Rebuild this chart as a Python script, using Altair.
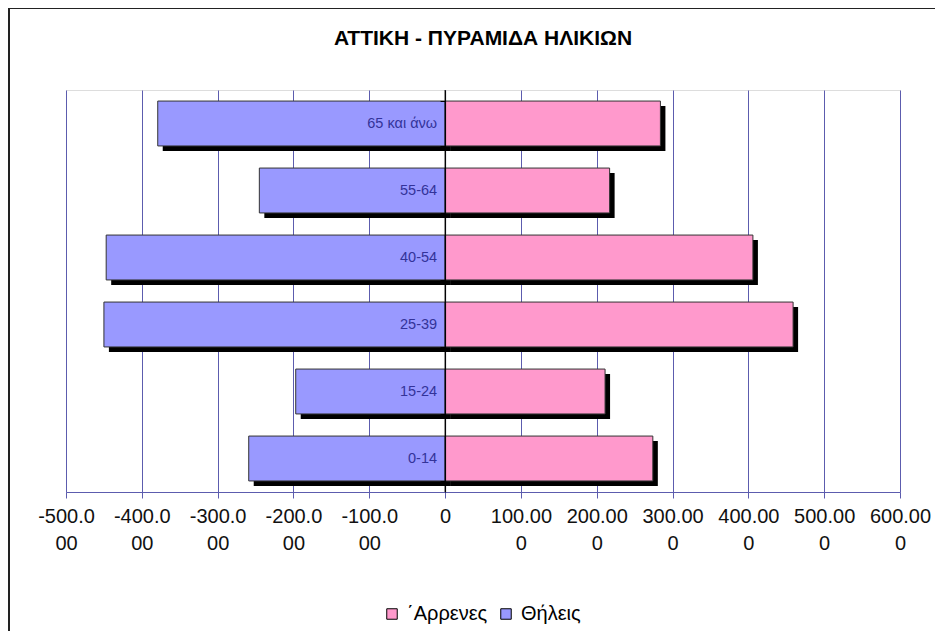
import altair as alt
import pandas as pd

# ---- data ----
age_groups = ["0-14", "15-24", "25-39", "40-54", "55-64", "65 και άνω"]
males = [274, 211, 459, 406, 217, 284]          # Άρρενες (right side)
females = [-259, -197, -450, -447, -245, -379]  # Θήλεις (left side, negative)
series_names = ["΄Αρρενες", "Θήλεις"]
series_colors = ["#FF99CC", "#9999FF"]
tick_values = [-500, -400, -300, -200, -100, 0, 100, 200, 300, 400, 500, 600]
tick_label_lines = [["-500.0", "00"], ["-400.0", "00"], ["-300.0", "00"], ["-200.0", "00"],
                    ["-100.0", "00"], ["0"], ["100.00", "0"], ["200.00", "0"], ["300.00", "0"],
                    ["400.00", "0"], ["500.00", "0"], ["600.00", "0"]]
title_text = "ΑΤΤΙΚΗ - ΠΥΡΑΜΙΔΑ ΗΛΙΚΙΩΝ"

rows = []
for g, m, f in zip(age_groups, males, females):
    rows.append({"age": g, "sex": series_names[0], "value": m})
    rows.append({"age": g, "sex": series_names[1], "value": f})
df = pd.DataFrame(rows)

W, H = 834, 402
XMIN, XMAX = -500, 600
FONT = "Liberation Sans"
GRID = "#5c5cae"

label_expr = "".join(
    f"datum.value == {v} ? {tick_label_lines[i]!r} : " for i, v in enumerate(tick_values)
) + "''"

y_order = list(reversed(age_groups))
yscale = alt.Scale(domain=y_order, paddingInner=0.33, paddingOuter=0.165)
xscale = alt.Scale(domain=[XMIN, XMAX], nice=False, zero=False)

zero_offset = -W * (0 - XMIN) / (XMAX - XMIN)

x_axis = alt.Axis(values=tick_values, labelExpr=label_expr, title=None,
                  grid=True, gridColor=GRID, gridOpacity=1,
                  domainColor=GRID, tickColor=GRID, tickSize=6,
                  labelFont=FONT, labelFontSize=20, labelColor="#111111",
                  labelLineHeight=27, labelPadding=8, labelFlush=False,
                  labelOverlap=False, labelBaseline="top")
y_axis = alt.Axis(orient="left", offset=zero_offset, labels=False, title=None,
                  grid=False, domainColor="black", tickColor="black",
                  tickSize=5, tickBand="extent", zindex=2)

base = alt.Chart(df)

shadow = base.mark_bar(color="black", xOffset=5, x2Offset=5, yOffset=5, y2Offset=5).encode(
    x=alt.X("value:Q", scale=xscale, axis=x_axis),
    y=alt.Y("age:N", scale=yscale, axis=y_axis),
)

bars = base.mark_bar(stroke="#333333", strokeWidth=1).encode(
    x=alt.X("value:Q", scale=xscale, axis=x_axis),
    y=alt.Y("age:N", scale=yscale, axis=y_axis),
    color=alt.Color("sex:N",
                    scale=alt.Scale(domain=series_names, range=series_colors),
                    legend=alt.Legend(title=None, orient="none", direction="horizontal",
                                      legendX=316, legendY=514, symbolType="square",
                                      symbolSize=110, symbolStrokeColor="black",
                                      symbolStrokeWidth=1, labelFont=FONT,
                                      labelFontSize=20, labelColor="black",
                                      columnPadding=8, symbolOffset=0, labelOffset=5)),
)

labels = base.transform_filter(alt.datum.value < 0).mark_text(
    align="right", baseline="middle", dx=-8, font=FONT, fontSize=14.5, color="#333399"
).encode(
    x=alt.datum(0, scale=xscale, axis=x_axis),
    y=alt.Y("age:N", scale=yscale, axis=y_axis),
    text="age:N",
)

zero_line = alt.Chart(pd.DataFrame({"zero": [0]})).mark_rule(
    color="black", strokeWidth=1
).encode(x=alt.X("zero:Q", scale=xscale, axis=x_axis))

title_mark = alt.Chart(pd.DataFrame({"t": [title_text]})).mark_text(
    font=FONT, fontSize=21, fontWeight="bold", color="black",
    align="center", baseline="alphabetic"
).encode(text="t:N", x=alt.value(W / 2), y=alt.value(-45))

frame = alt.Chart(pd.DataFrame({"a": [0]})).mark_rect(
    fill=None, stroke="#222222", strokeWidth=2
).encode(
    x=alt.value(-57), x2=alt.value(W + 60), y=alt.value(-82), y2=alt.value(H + 160)
)

chart = alt.layer(shadow, bars, labels, zero_line, title_mark, frame).properties(
    width=W, height=H,
    autosize=alt.AutoSizeParams(type="none"),
    padding={"left": 58, "top": 82, "right": 35, "bottom": 139},
).configure_view(stroke=GRID, strokeWidth=1).configure(background="white")

chart.save("out.html", embed_options={"renderer": "svg", "actions": False})
